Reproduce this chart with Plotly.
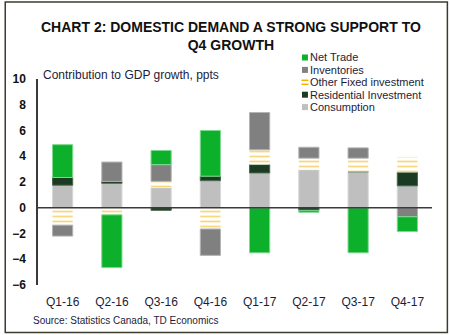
import plotly.graph_objects as go

# Quarterly contributions to real GDP growth (percentage points)
quarters = ["Q1-16", "Q2-16", "Q3-16", "Q4-16", "Q1-17", "Q2-17", "Q3-17", "Q4-17"]
consumption = [1.75, 1.9, 1.55, 2.1, 2.7, 2.95, 2.8, 1.7]
residential = [0.6, 0.15, -0.2, 0.35, 0.65, -0.2, 0.0, 1.05]
other_fixed = [-1.35, -0.55, 0.5, -1.65, 1.15, 0.9, 1.05, 1.2]
inventories = [-0.85, 1.5, 1.3, -2.05, 2.9, 0.85, 0.8, -0.7]
net_trade = [2.55, -4.1, 1.1, 3.55, -3.5, -0.15, -3.5, -1.15]
y_ticks = [-6, -4, -2, 0, 2, 4, 6, 8, 10]

FONT = "Liberation Sans, Arial, sans-serif"
TEXT = "#1c1c3a"
W, H = 450, 335
L, R, T, B = 35, 18, 79, 50
PW, PH = W - L - R, H - T - B

C_CONS = "#bfbfbf"
C_RES = "#1b3a22"
C_OTH = "#f2b000"
C_INV = "#808080"
C_NET = "#0db02b"


def px(xp):
    return (xp - L) / PW


def py(yp):
    return (H - B - yp) / PH


fig = go.Figure()
fig.add_bar(x=quarters, y=consumption, name="Consumption",
            marker=dict(color=C_CONS, line=dict(color="#d8d8d8", width=1)))
fig.add_bar(x=quarters, y=residential, name="Residential Investment",
            marker=dict(color=C_RES, line=dict(color="#4a6a50", width=1)))
fig.add_bar(x=quarters, y=other_fixed, name="Other Fixed investment",
            marker=dict(color="white", line=dict(width=0),
                        pattern=dict(shape="-", fillmode="overlay", fgcolor=C_OTH,
                                     bgcolor="white", size=5, solidity=0.35)))
fig.add_bar(x=quarters, y=inventories, name="Inventories",
            marker=dict(color=C_INV, line=dict(color="#b4b4b4", width=1)))
fig.add_bar(x=quarters, y=net_trade, name="Net Trade",
            marker=dict(color=C_NET, line=dict(color="#7fd890", width=1)))

shapes = [
    # zero line drawn over the bars
    dict(type="line", xref="paper", yref="y", x0=0, x1=1, y0=0, y1=0,
         line=dict(color="#3a3a3a", width=1.5), layer="above"),
    # outer frame
    dict(type="rect", xref="paper", yref="paper",
         x0=px(2), x1=px(447.5), y0=py(332.5), y1=py(2),
         line=dict(color="#3c3c2c", width=1.5)),
]

annotations = [
    dict(text="<b>CHART 2: DOMESTIC DEMAND A STRONG SUPPORT TO<br>Q4 GROWTH</b>",
         xref="paper", yref="paper", x=px(229), y=py(36), xanchor="center",
         yanchor="middle", showarrow=False, align="center",
         font=dict(family=FONT, size=14, color="#111111")),
    dict(text="Contribution to GDP growth, ppts", xref="paper", yref="paper",
         x=px(38), y=py(75), xanchor="left", yanchor="middle", showarrow=False,
         font=dict(family=FONT, size=12, color=TEXT)),
    dict(text="Source: Statistics Canada, TD Economics", xref="paper", yref="paper",
         x=px(28), y=py(320), xanchor="left", yanchor="middle", showarrow=False,
         font=dict(family=FONT, size=10, color=TEXT)),
]

# legend, top item is the last stacked component
legend_rows = [
    ("Net Trade", C_NET, "box", 57.5),
    ("Inventories", C_INV, "box", 69.9),
    ("Other Fixed investment", C_OTH, "lines", 82.3),
    ("Residential Investment", C_RES, "box", 94.7),
    ("Consumption", C_CONS, "box", 107.1),
]
for label, col, kind, yc in legend_rows:
    annotations.append(dict(text=label, xref="paper", yref="paper", x=px(308),
                            y=py(yc), xanchor="left", yanchor="middle",
                            showarrow=False, borderpad=0,
                            font=dict(family=FONT, size=11, color=TEXT)))
    if kind == "box":
        shapes.append(dict(type="rect", xref="paper", yref="paper",
                           x0=px(301), x1=px(307), y0=py(yc + 3), y1=py(yc - 3),
                           fillcolor=col, line=dict(width=0)))
    else:
        for dy in (-2, 2):
            shapes.append(dict(type="line", xref="paper", yref="paper",
                               x0=px(300.5), x1=px(307.5), y0=py(yc + dy),
                               y1=py(yc + dy), line=dict(color=col, width=1.5)))

fig.update_layout(
    width=W, height=H, barmode="relative", bargap=0.59,
    margin=dict(l=L, r=R, t=T, b=B),
    paper_bgcolor="white", plot_bgcolor="white",
    showlegend=False, shapes=shapes, annotations=annotations,
    font=dict(family=FONT, color=TEXT),
)
fig.update_xaxes(showgrid=False, showline=False, zeroline=False,
                 ticks="outside", ticklen=6, tickcolor="rgba(0,0,0,0)",
                 tickfont=dict(family=FONT, size=12, color=TEXT))
fig.update_yaxes(range=[-6, 10], tickvals=y_ticks, showgrid=False, zeroline=False,
                 showline=True, linecolor="#3a3a3a", linewidth=1.5,
                 ticks="outside", ticklen=8, tickcolor="rgba(0,0,0,0)",
                 tickfont=dict(family=FONT, size=12, color="#111111", weight="bold"))

fig.write_html("out.html")
